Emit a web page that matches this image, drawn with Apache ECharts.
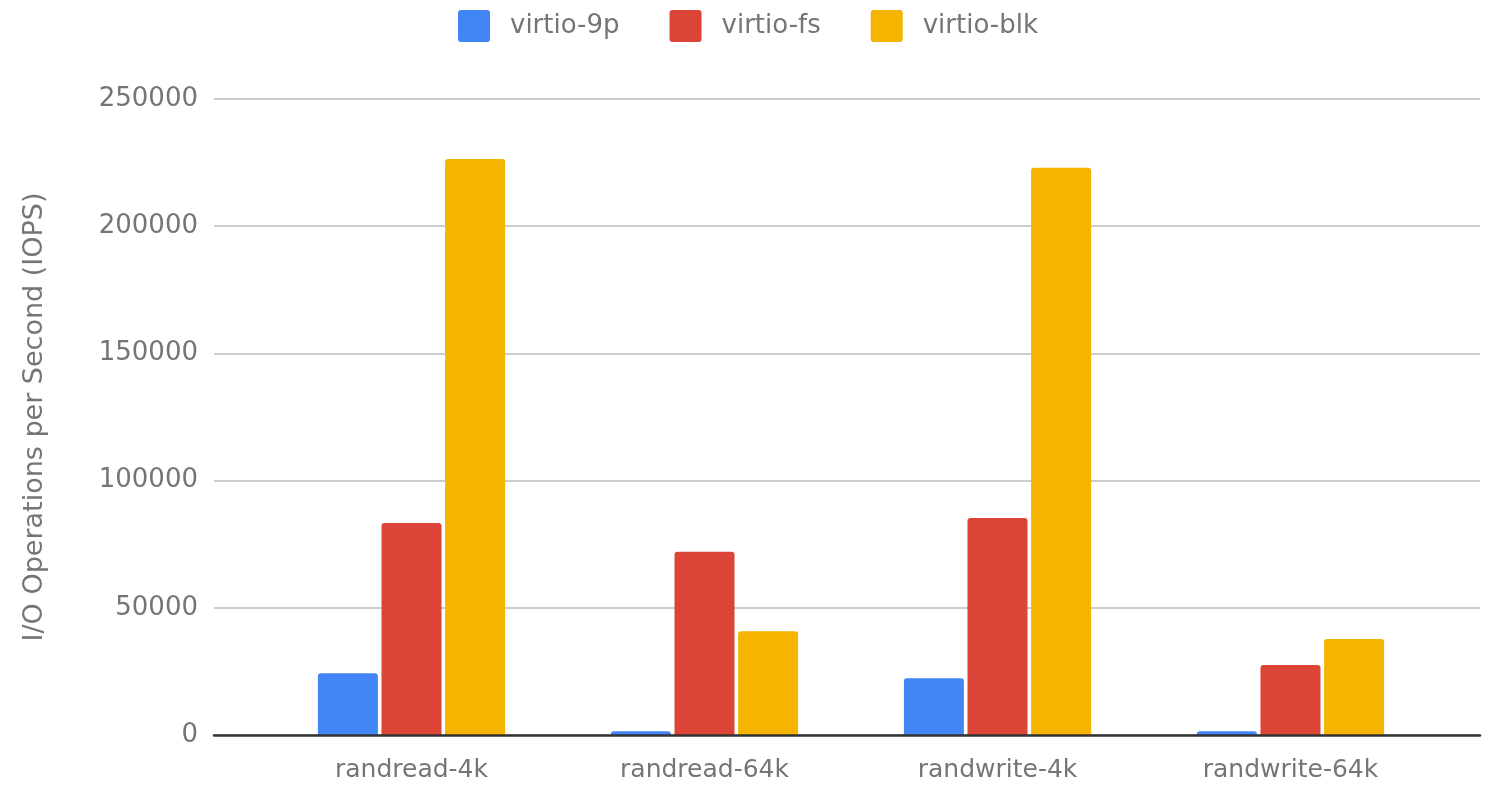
<!DOCTYPE html>
<html>
<head>
<meta charset="utf-8">
<title>virtio IOPS</title>
<script src="https://cdn.jsdelivr.net/npm/echarts@6/dist/echarts.min.js"></script>
<style>
  html, body { margin: 0; padding: 0; background: #fff; }
  #chart { width: 1487px; height: 786px; }
</style>
</head>
<body>
<div id="chart"></div>
<script>
// data
const categories = ['randread-4k', 'randread-64k', 'randwrite-4k', 'randwrite-64k']
const virtio9p = [24300, 1500, 22300, 1500]
const virtioFs = [83300, 72000, 85300, 27500]
const virtioBlk = [226400, 40800, 223000, 37700]
const yTicks = [0, 50000, 100000, 150000, 200000, 250000]

// the reference text is wide, DejaVu Sans gets closest in footprint
const FONT = '"DejaVu Sans", Roboto, sans-serif'
const GREY = '#757575'
// square with slightly rounded corners for the legend swatches
const SWATCH = 'path://M3,0 H29 Q32,0 32,3 V29 Q32,32 29,32 H3 Q0,32 0,29 V3 Q0,0 3,0 Z'

const chart = echarts.init(document.getElementById('chart'))

const barSeries = (name, data, color) => ({
  name,
  type: 'bar',
  xAxisIndex: 1,
  yAxisIndex: 1,
  data,
  barWidth: 60,
  barGap: '6%',
  itemStyle: { color, borderRadius: [3, 3, 0, 0] }
})

const option = {
  animation: false,
  textStyle: { fontFamily: FONT },
  legend: {
    top: 5,
    left: 453,
    icon: SWATCH,
    itemWidth: 32,
    itemHeight: 32,
    itemGap: 50,
    textStyle: { fontFamily: FONT, fontSize: 26, color: GREY, padding: [4, 0, 0, 15] },
    data: ['virtio-9p', 'virtio-fs', 'virtio-blk']
  },
  grid: [
    // background grid: gridlines + baseline across the full width
    { left: 214, right: 7, top: 99, bottom: 51 },
    // bars sit in a narrower band, like the original
    { left: 265, right: 50, top: 99, bottom: 51 }
  ],
  xAxis: [
    {
      type: 'value',
      gridIndex: 0,
      min: 0,
      max: 1,
      axisLabel: { show: false },
      axisTick: { show: false },
      splitLine: { show: false },
      axisLine: { show: true, lineStyle: { color: '#333', width: 2.5 } },
      z: 5
    },
    {
      type: 'category',
      gridIndex: 1,
      data: categories,
      axisLine: { show: false },
      axisTick: { show: false },
      axisLabel: { fontFamily: FONT, fontSize: 25, color: GREY, margin: 23 }
    }
  ],
  yAxis: [
    {
      type: 'value',
      gridIndex: 0,
      min: yTicks[0],
      max: yTicks[yTicks.length - 1],
      interval: yTicks[1] - yTicks[0],
      name: 'I/O Operations per Second (IOPS)',
      nameLocation: 'middle',
      nameGap: 166,
      nameTextStyle: { fontFamily: FONT, fontSize: 27, color: GREY },
      axisLine: { show: false },
      axisTick: { show: false },
      axisLabel: {
        fontFamily: FONT,
        fontSize: 26,
        color: GREY,
        margin: 16,
        formatter: (v) => String(v)
      },
      splitLine: { lineStyle: { color: '#cccccc', width: 2 } }
    },
    {
      type: 'value',
      gridIndex: 1,
      min: yTicks[0],
      max: yTicks[yTicks.length - 1],
      show: false,
      splitLine: { show: false }
    }
  ],
  series: [
    barSeries('virtio-9p', virtio9p, '#4285f4'),
    barSeries('virtio-fs', virtioFs, '#db4437'),
    barSeries('virtio-blk', virtioBlk, '#f4b400')
  ]
}

chart.setOption(option)
</script>
</body>
</html>
